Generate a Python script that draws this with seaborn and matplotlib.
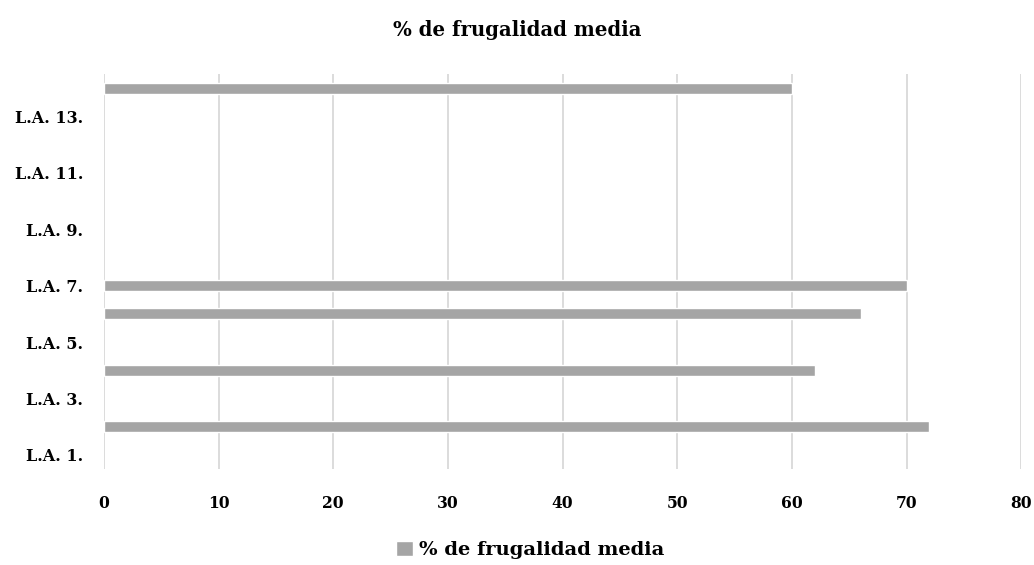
import numpy as np
import pandas as pd
import matplotlib
matplotlib.use("Agg")
import matplotlib.pyplot as plt
import seaborn as sns

# Data
categories = [f"L.A. {i}." for i in range(1, 15)]
values = [np.nan, 72, np.nan, 62, np.nan, 66, 70,
          np.nan, np.nan, np.nan, np.nan, np.nan, np.nan, 60]
series_name = "% de frugalidad media"
x_ticks = [0, 10, 20, 30, 40, 50, 60, 70, 80]

df = pd.DataFrame({"cat": categories, "val": values, "serie": series_name})

sns.set_theme(style="white")
plt.rcParams["font.family"] = ["DejaVu Serif", "Liberation Serif"]
plt.rcParams["font.weight"] = "bold"
plt.rcParams["text.color"] = "black"
plt.rcParams["xtick.color"] = "black"
plt.rcParams["ytick.color"] = "black"

fig = plt.figure(figsize=(10.34, 5.65), dpi=100)
ax = fig.add_axes([0.1006, 0.170, 0.887, 0.699])

order = categories[::-1]  # first category at the bottom
sns.barplot(data=df, y="cat", x="val", hue="serie", order=order,
            palette=["#A5A5A5"], orient="h", errorbar=None,
            width=0.39, ax=ax, legend=True, saturation=1)

ax.set_xlim(0, 80)
ax.set_xticks(x_ticks)
ax.set_xticklabels([str(t) for t in x_ticks], fontsize=11.2, fontweight="bold")
ax.xaxis.grid(True, color="#D9D9D9", linewidth=1.3)
ax.set_axisbelow(True)
ax.tick_params(axis="x", length=0, pad=19, labelcolor="black")
ax.tick_params(axis="y", length=0, pad=15, labelcolor="black")

labels = []
for c in order:
    n = int(c.split()[1].rstrip("."))
    labels.append(c if n % 2 == 1 else "")
ax.set_yticks(range(len(order)))
ax.set_yticklabels(labels, fontsize=11.5, fontweight="bold")

for s in ax.spines.values():
    s.set_visible(False)
ax.set_xlabel("")
ax.set_ylabel("")

fig.suptitle(series_name, x=0.5, y=0.965, fontsize=14.2, fontweight="bold",
             color="black")

ax.get_legend().remove()
handles, lbls = ax.get_legend_handles_labels()
fig.legend(handles, lbls, loc="center", bbox_to_anchor=(0.513, 0.027),
           frameon=False, handlelength=0.85, handleheight=0.85,
           handletextpad=0.35, labelcolor="black",
           prop={"weight": "bold", "size": 14})

fig.savefig("out.png", dpi=100)
